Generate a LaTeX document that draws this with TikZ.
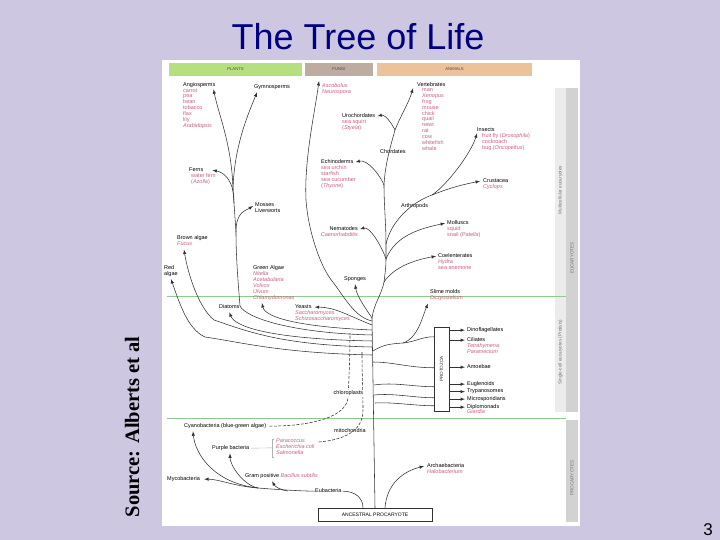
\documentclass[tikz,border=0pt]{standalone}
\usepackage{fontspec}
\setmainfont{Liberation Sans}
\newfontfamily\sourcefont{Liberation Serif}
\usetikzlibrary{arrows}

\definecolor{slidebg}{RGB}{205,199,226}
\definecolor{titleblue}{RGB}{0,0,128}
\definecolor{speciespink}{RGB}{200,96,130}
\definecolor{plantsbar}{RGB}{180,224,128}
\definecolor{fungibar}{RGB}{190,172,160}
\definecolor{animalsbar}{RGB}{236,194,154}
\definecolor{zoneline}{RGB}{140,205,140}
\definecolor{treeline}{RGB}{50,50,50}

\begin{document}
\begin{tikzpicture}
[
  x=1pt, y=-1pt,
  taxon/.style    = {anchor=north west, inner sep=0pt, align=left,
                     font=\fontsize{5.5}{5.9}\selectfont,
                     execute at begin node=\strut},
  species/.style  = {taxon, text=speciespink},
  kingdom/.style  = {inner sep=0pt, font=\fontsize{4.2}{4.2}\selectfont, text=black!70},
  zonetext/.style = {inner sep=0pt, rotate=90, text=black!55,
                     font=\fontsize{4.6}{4.6}\selectfont},
  stem/.style     = {draw=treeline, line width=0.55pt},
  branch/.style   = {stem, -latex},
  symbiont/.style = {stem, dash pattern=on 3pt off 1.5pt},
  framed/.style   = {draw=treeline, line width=0.5pt, fill=white, inner sep=0pt}
]
\useasboundingbox (0,0) rectangle (720,540);
\fill[slidebg] (0,0) rectangle (720,540);
\fill[white] (162,60) rectangle (580,526);

% slide texts
\node[anchor=base, text=titleblue, font=\fontsize{36}{36}\selectfont]
  (title) at (358,50) {The Tree of Life};
\node[anchor=base, rotate=90, font=\sourcefont\bfseries\fontsize{20.5}{20.5}\selectfont]
  (source) at (139,427) {Source: Alberts et al};
\node[anchor=base, font=\fontsize{17}{17}\selectfont] (pageno) at (708,535) {3};

% kingdom bars and side bar
\fill[plantsbar] (169,63) rectangle (302,76);
\fill[fungibar] (305,63) rectangle (373,76);
\fill[animalsbar] (377,63) rectangle (532,76);
\node[kingdom] (plants) at (235.5,69.5) {PLANTS};
\node[kingdom] (fungi) at (339,69.5) {FUNGI};
\node[kingdom] (animals) at (454.5,69.5) {ANIMALS};
\fill[gray!15] (555,88) rectangle (566,412);
\fill[gray!35] (566,88) rectangle (578,412);
\fill[gray!35] (566,420) rectangle (578,522);
\node[zonetext] (multi) at (560.5,190) {Multicellular eucaryotes};
\node[zonetext] (euca) at (572,258) {EUCARYOTES};
\node[zonetext] (single) at (560.5,352) {Single-cell eucaryotes (Protists)};
\node[zonetext] (proca) at (572,478) {PROCARYOTES};
\draw[zoneline, line width=0.6pt] (167,296) -- (566,296);
\draw[zoneline, line width=0.6pt] (167,418) -- (566,418);

% plants
\node[taxon] (angio) at (183,82) {Angiosperms};
\node[species] (angiosp) at (angio.south west) {carrot\\pea\\bean\\tobacco\\flax\\lily\\\textit{Arabidopsis}};
\node[taxon] (gymno) at (254,84) {Gymnosperms};
\node[taxon] (ferns) at (189,167) {Ferns};
\node[species] (fernsp) at ([xshift=2pt]ferns.south west) {water fern\\(\textit{Azolla})};
\node[taxon] (mosses) at (255,203) {Mosses\\Liverworts};
\node[taxon] (brown) at (177,235) {Brown algae};
\node[species] (brownsp) at (brown.south west) {\textit{Fucus}};
\node[taxon] (red) at (164,265) {Red\\algae};
\node[taxon] (green) at (253,265) {Green Algae};
\node[species] (greensp) at (green.south west) {\textit{Nitella}\\\textit{Acetabularia}\\\textit{Volvox}\\\textit{Ulvum}\\\textit{Chlamydomonas}};
\node[taxon] (diatoms) at (219,304) {Diatoms};
% fungi
\node[species] (asco) at (322,83) {\textit{Ascobolus}\\\textit{Neurospora}};
\node[taxon] (yeasts) at (295,304) {Yeasts};
\node[species] (yeastsp) at (yeasts.south west) {\textit{Saccharomyces}\\\textit{Schizosaccharomyces}};
% animals
\node[taxon] (vert) at (417,82) {Vertebrates};
\node[species] (vertsp) at ([xshift=5pt]vert.south west) {man\\\textit{Xenopus}\\frog\\mouse\\chick\\quail\\newt\\rat\\cow\\whitefish\\whale};
\node[taxon] (uro) at (342,113) {Urochordates};
\node[species] (urosp) at (uro.south west) {sea squirt\\(\textit{Styela})};
\node[taxon] (chord) at (380,149) {Chordates};
\node[taxon] (insects) at (477,127) {Insects};
\node[species] (insectsp) at ([xshift=5pt]insects.south west) {fruit fly (\textit{Drosophila})\\cockroach\\bug (\textit{Oncopeltus})};
\node[taxon] (echino) at (321,159) {Echinoderms};
\node[species] (echinosp) at (echino.south west) {sea urchin\\starfish\\sea cucumber\\(\textit{Thyone})};
\node[taxon] (crust) at (483,178) {Crustacea};
\node[species] (crustsp) at (crust.south west) {\textit{Cyclops}};
\node[taxon] (arthro) at (401,203) {Arthropods};
\node[taxon] (mollusc) at (447,220) {Molluscs};
\node[species] (molluscsp) at (mollusc.south west) {squid\\snail (\textit{Patella})};
\node[taxon, anchor=north east] (nema) at (358,226) {Nematodes};
\node[species, anchor=north east] (nemasp) at (nema.south east) {\textit{Caenorhabditis}};
\node[taxon] (coel) at (438,253) {Coelenterates};
\node[species] (coelsp) at (coel.south west) {\textit{Hydra}\\sea anemone};
\node[taxon] (sponges) at (344,276) {Sponges};
% protists
\node[taxon] (slime) at (430,289) {Slime molds};
\node[species] (slimesp) at (slime.south west) {\textit{Dictyostelium}};
\node[framed, minimum width=15pt, minimum height=84pt] (protozoa) at (441.5,369) {};
\node[zonetext, text=treeline] (protozoalbl) at (protozoa.center) {PROTOZOA};
\node[taxon] (dino) at (467,327) {Dinoflagellates};
\node[taxon] (cil) at (467,337) {Ciliates};
\node[species] (cilsp) at (cil.south west) {\textit{Tetrahymena}\\\textit{Paramecium}};
\node[taxon] (amoeba) at (467,364) {Amoebae};
\node[taxon] (eugl) at (467,381) {Euglenoids};
\node[taxon] (tryp) at (467,388.5) {Trypanosomes};
\node[taxon] (micro) at (467,396) {Microsporidians};
\node[taxon] (diplo) at (467,404) {Diplomonads};
\node[species] (diplosp) at ([yshift=1pt]diplo.south west) {\textit{Giardia}};
% procaryotes
\node[taxon] (cyano) at (184,423) {Cyanobacteria (blue-green algae)};
\node[taxon] (mito) at (334,428) {mitochondria};
\node[taxon] (purple) at (212,445) {Purple bacteria};
\node[species] (purplesp) at (276,439) {\textit{Paracoccus}\\\textit{Escherichia coli}\\\textit{Salmonella}};
\node[taxon] (myco) at (167,476) {Mycobacteria};
\node[taxon] (gram) at (245,473) {Gram positive \textcolor{speciespink}{\textit{Bacillus subtilis}}};
\node[taxon] (eub) at (315,488) {Eubacteria};
\node[taxon] (archae) at (427,463) {Archaebacteria};
\node[species] (archaesp) at (archae.south west) {\textit{Halobacterium}};
\node[framed, minimum width=114pt, minimum height=13pt, font=\fontsize{5}{5}\selectfont]
  (ancestor) at (375,514.5) {ANCESTRAL PROCARYOTE};

% trunk and animals
\coordinate (tA) at (372,318);
\coordinate (tCoel) at (384,282);
\coordinate (tNema) at (386,259);
\coordinate (tArthro) at (386,244);
\coordinate (tEchino) at (384,185);
\coordinate (tChord) at (395,130);
\coordinate (jArthro) at (432,195);
\draw[stem] (ancestor.north) -- (tA)
  .. controls +(2,-15) and +(-2,12) .. (tCoel)
  .. controls +(1,-8) and +(0,8) .. (tNema) -- (tArthro)
  .. controls +(0,-20) and +(0,20) .. (tEchino)
  .. controls +(1,-20) and +(-5,18) .. (tChord);
\draw[branch] (tChord) .. controls +(6,-15) and +(-4,14) .. ([xshift=-4pt]vert.south west);
\draw[branch] (tChord) .. controls +(-3,-6) and +(8,-2) .. ([xshift=2pt]uro.east);
\draw[branch] (tEchino) .. controls +(-4,-10) and +(12,-3) .. ([xshift=2pt]echino.east);
\draw[stem] (tArthro) .. controls +(5,-22) and +(-22,8) .. (jArthro);
\draw[branch] (jArthro) .. controls +(15,-10) and +(-6,20) .. (insects.south west);
\draw[branch] (jArthro) .. controls +(20,-8) and +(-15,3) .. ([xshift=-3pt]crust.west);
\draw[branch] (tNema) .. controls +(10,-25) and +(-22,5) .. ([xshift=-2pt]mollusc.west);
\draw[branch] (tNema) .. controls +(-4,-12) and +(10,-3) .. ([xshift=2pt]nema.east);
\draw[branch] (tCoel) .. controls +(10,-15) and +(-22,4) .. ([xshift=-2pt]coel.west);
\draw[branch] (tA) .. controls +(-8,-12) and +(2,12) .. ([yshift=-2pt]sponges.south);

% fungi
\coordinate (tFungi) at (372,321);
\coordinate (fA) at (332,281);
\coordinate (fB) at (306,200);
\draw[branch] (tFungi) .. controls +(-18,-4) and +(12,15) .. (fA)
  .. controls +(-12,-15) and +(2,30) .. (fB)
  .. controls +(-2,-40) and +(-4,30) .. ([xshift=-3pt,yshift=2pt]asco.north west);
\coordinate (tYeast) at (372,325);
\draw[branch] (tYeast) .. controls +(-25,-10) and +(20,0) .. ([xshift=3pt]yeasts.east);

% plants and algae
\coordinate (tPlant) at (372,335);
\coordinate (pBend) at (240,306);
\coordinate (pMoss) at (236,232);
\coordinate (pFern) at (234,203);
\coordinate (pTop) at (233,190);
\draw[stem] (tPlant) .. controls +(-80,-2) and +(6,12) .. (pBend)
  .. controls +(-2,-25) and +(0,25) .. (pMoss) -- (pFern) -- (pTop);
\draw[branch] (pTop) .. controls +(-1,-45) and +(5,25) .. ([xshift=-2pt,yshift=-1pt]angio.south east);
\draw[branch] (pTop) .. controls +(1,-45) and +(-8,20) .. ([xshift=3pt,yshift=-2pt]gymno.south west);
\draw[branch] (pFern) .. controls +(0,-25) and +(10,2) .. ([xshift=9pt]ferns.east);
\draw[branch] (pMoss) .. controls +(0,-20) and +(-8,5) .. ([xshift=-2pt,yshift=-3pt]mosses.north west);
\coordinate (tGreen) at (372,330);
\draw[branch] (tGreen) .. controls +(-70,-3) and +(3,15) .. ([xshift=9pt,yshift=-2pt]greensp.south west);
\coordinate (tDiatom) at (372,341);
\draw[branch] (tDiatom) .. controls +(-100,-2) and +(6,15) .. ([yshift=-2pt]diatoms.south);
\coordinate (tBrown) at (372,347);
\coordinate (bBend) at (214,320);
\draw[branch] (tBrown) .. controls +(-90,-2) and +(35,12) .. (bBend)
  .. controls +(-15,-12) and +(4,25) .. ([xshift=7pt,yshift=-2pt]brownsp.south west);
\coordinate (tRed) at (372,355);
\coordinate (rBend) at (205,337);
\draw[branch] (tRed) .. controls +(-90,-2) and +(40,6) .. (rBend)
  .. controls +(-18,-8) and +(8,22) .. ([yshift=-2pt]red.south);

% protists
\coordinate (tP1) at (373,351);
\coordinate (jSlime) at (403,343);
\coordinate (tP2) at (373,362);
\coordinate (tP3) at (374,385);
\coordinate (tP4) at (374,395);
\coordinate (tP5) at (375,403);
\draw[stem] (tP1) .. controls +(10,-6) and +(-15,1) .. (jSlime)
  .. controls +(12,-1) and +(-12,0) .. ([yshift=-10pt]protozoa.north west);
\draw[branch] (jSlime) .. controls +(15,-5) and +(-6,14) .. ([xshift=-2pt,yshift=-2pt]slimesp.south west);
\draw[stem] (tP2) .. controls +(20,0) and +(-25,0) .. ([yshift=-41pt]protozoa.north west);
\draw[stem] (tP3) .. controls +(20,-3) and +(-20,0) .. ([yshift=-60pt]protozoa.north west);
\draw[stem] (tP4) .. controls +(20,-2) and +(-20,0) .. ([yshift=-71pt]protozoa.north west);
\draw[stem] (tP5) .. controls +(20,-1) and +(-20,0) .. ([yshift=-79pt]protozoa.north west);
\foreach \proto in {dino,cil,amoeba,eugl,tryp,micro,diplo}
  \draw[branch] (protozoa.east |- \proto.west) -- ([xshift=-2pt]\proto.west);

% endosymbionts
\coordinate (chlA) at (348,398);
\coordinate (chlEnd) at (350,333);
\draw[symbiont] ([xshift=3pt]cyano.east) .. controls +(45,0) and +(-2,18) .. (chlA)
  .. controls +(1,-20) and +(0,25) .. (chlEnd);
\coordinate (mitA) at (363,410);
\coordinate (mitEnd) at (362,352);
\draw[symbiont] ([xshift=4pt,yshift=-3pt]purplesp.north east) .. controls +(35,-3) and +(0,15) .. (mitA)
  .. controls +(0,-20) and +(0,25) .. (mitEnd);
\node[taxon, fill=white, inner sep=0.5pt] (chloro) at (333,390) {chloroplasts};

% bacteria
\coordinate (bJ) at (258,488);
\coordinate (gJ) at (288,491);
\draw[stem] ([xshift=-12pt]ancestor.north) .. controls +(0,-10) and +(12,0) .. ([xshift=1pt]eub.east);
\draw[stem] (eub.west) .. controls +(-15,0) and +(12,1) .. (bJ);
\draw[branch] (gJ) .. controls +(-8,-1) and +(3,5) .. ([xshift=27pt,yshift=-2pt]gram.south west);
\draw[branch] (bJ) .. controls +(-25,-2) and +(15,0) .. ([xshift=4pt]myco.east);
\draw[branch] (bJ) .. controls +(-15,-3) and +(0,12) .. ([xshift=18pt,yshift=-2pt]purple.south west);
\draw[branch] (bJ) .. controls +(-45,-5) and +(2,22) .. ([xshift=9pt,yshift=-2pt]cyano.south west);
\draw[branch] ([xshift=10pt]ancestor.north) .. controls +(2,-25) and +(-20,5) .. ([xshift=-3pt]archae.west);
\draw[draw=gray!60, line width=0.4pt] ([xshift=-2pt]purplesp.north west) -- ++(-2,0) |- ([xshift=-2pt]purplesp.south west);
\draw[draw=gray!60, line width=0.4pt] ([xshift=2pt]purple.east) -- ([xshift=-4pt]purplesp.west);
\end{tikzpicture}
\end{document}
